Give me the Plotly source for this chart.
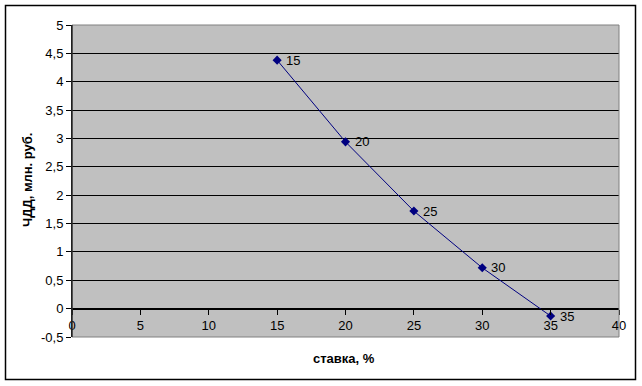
import plotly.graph_objects as go

rates = [15, 20, 25, 30, 35]
npv = [4.38, 2.94, 1.72, 0.72, -0.13]
labels = ["15", "20", "25", "30", "35"]
y_ticks = [-0.5, 0, 0.5, 1, 1.5, 2, 2.5, 3, 3.5, 4, 4.5, 5]
y_tick_text = ["-0,5", "0", "0,5", "1", "1,5", "2", "2,5", "3", "3,5", "4", "4,5", "5"]
x_ticks = [0, 5, 10, 15, 20, 25, 30, 35, 40]

FONT = "Liberation Sans, Arial, sans-serif"

fig = go.Figure()
fig.add_trace(go.Scatter(
    x=rates, y=npv, mode="lines+markers",
    line=dict(color="#000080", width=1),
    marker=dict(symbol="diamond", size=7, color="#000080"),
    cliponaxis=False, showlegend=False,
))

W, H = 642, 386
ml, mr, mt, mb = 72, 23, 25, 49
pw, ph = W - ml - mr, H - mt - mb

def px(x):
    return (x - ml) / pw

def py(y):
    return (H - mb - y) / ph

ymin, ymax = -0.5, 5
zero_pos = (0 - ymin) / (ymax - ymin)

annotations = [
    dict(text=t, x=xv, y=yv, xref="x", yref="y", xanchor="left", yanchor="middle",
         xshift=7, showarrow=False, font=dict(family=FONT, size=13, color="black"))
    for t, xv, yv in zip(labels, rates, npv)
]
annotations += [
    dict(text="<b>ЧДД, млн. руб.</b>", xref="paper", yref="paper",
         x=px(27), y=py(180), xanchor="center", yanchor="middle",
         textangle=-90, showarrow=False,
         font=dict(family=FONT, size=13, color="black")),
    dict(text="<b>ставка, %</b>", xref="paper", yref="paper",
         x=px(344), y=py(358), xanchor="center", yanchor="middle",
         showarrow=False,
         font=dict(family=FONT, size=13, color="black")),
]

fig.update_layout(
    width=W, height=H,
    margin=dict(l=ml, r=mr, t=mt, b=mb),
    paper_bgcolor="white",
    plot_bgcolor="#C0C0C0",
    font=dict(family=FONT, size=13, color="black"),
    xaxis=dict(
        range=[0, 40], tickvals=x_ticks, showgrid=False, zeroline=False,
        anchor="free", position=zero_pos,
        showline=True, linecolor="black", linewidth=1,
        ticks="outside", ticklen=5, tickcolor="black",
        tickfont=dict(family=FONT, size=13, color="black"),
    ),
    yaxis=dict(
        range=[ymin, ymax], tickvals=y_ticks, ticktext=y_tick_text,
        showgrid=True, gridcolor="black", gridwidth=1, zeroline=False,
        showline=True, linecolor="black", linewidth=1,
        ticks="outside", ticklen=5, tickcolor="black",
        tickfont=dict(family=FONT, size=13, color="black"),
    ),
    shapes=[
        dict(type="rect", xref="paper", yref="paper", x0=0, x1=1, y0=0, y1=1,
             line=dict(color="#808080", width=1), layer="above"),
        dict(type="line", xref="paper", yref="paper", x0=0, x1=0, y0=0, y1=1,
             line=dict(color="black", width=1), layer="above"),
        dict(type="rect", xref="paper", yref="paper",
             x0=px(5.5), x1=px(635.5), y0=py(379.5), y1=py(5.5),
             line=dict(color="black", width=1.5)),
    ],
    annotations=annotations,
)

fig.write_html("out.html")
